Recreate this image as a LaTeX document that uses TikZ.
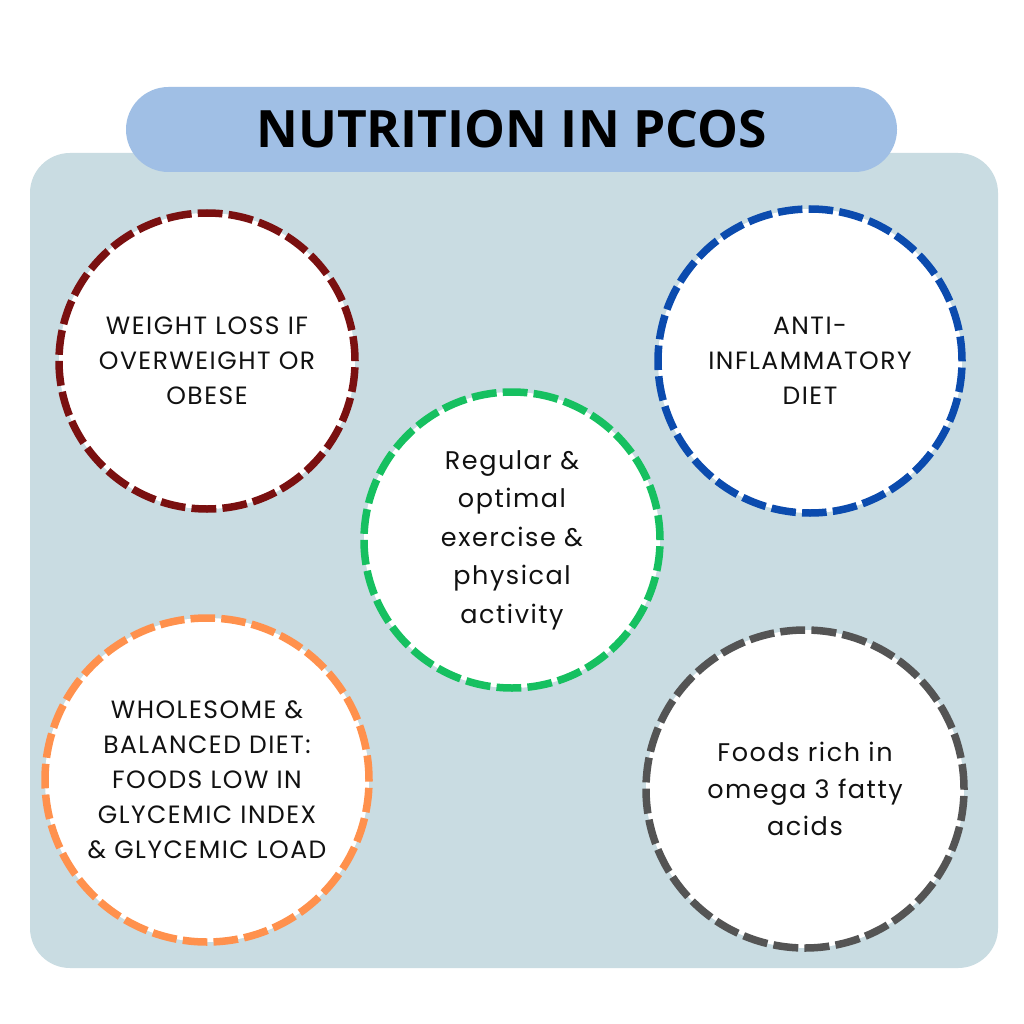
\documentclass[tikz,border=0pt]{standalone}
\usepackage{fontspec}
\setmainfont{Poppins}
\newfontfamily\bubfont{Poppins}[LetterSpace=6]
\newfontfamily\titlefont{Open Sans}
\definecolor{bgc}{HTML}{C9DCE2}
\definecolor{pillc}{HTML}{A0BFE5}
\definecolor{redc}{HTML}{7A1010}
\definecolor{bluec}{HTML}{0B4BAE}
\definecolor{greenc}{HTML}{16C060}
\definecolor{orangec}{HTML}{FF914D}
\definecolor{greyc}{HTML}{545454}
\definecolor{txtc}{HTML}{111111}
\begin{document}
\begin{tikzpicture}[x=1pt,y=-1pt,
  panel/.style={rectangle, fill=bgc, rounded corners=40pt, minimum width=968pt, minimum height=815pt, inner sep=0pt},
  pill/.style={rectangle, fill=pillc, rounded corners=42.5pt, minimum width=771pt, minimum height=85pt, inner sep=0pt, text=black, font=\titlefont\bfseries\fontsize{51.5}{60}\selectfont},
  bubble/.style={circle, fill=white, line width=7.5pt, inner sep=0pt, align=center, text=txtc, font=\bubfont\fontsize{25}{35}\selectfont},
  lbubble/.style={bubble, font=\bubfont\fontsize{25.5}{38.5}\selectfont}]
\useasboundingbox (0,0) rectangle (1024,1024);
\fill[white] (0,0) rectangle (1024,1024);
\node[panel] (panel) at (514,560.5) {};
\node[pill] (title) at (511.5,129.5) {NUTRITION IN PCOS};
\node[bubble, draw=redc, minimum size=296pt, dash pattern=on 24.8pt off 6.2pt] (weight) at (207,361)
  {WEIGHT LOSS IF\\OVERWEIGHT OR\\OBESE};
\node[bubble, draw=bluec, minimum size=304pt, dash pattern=on 24.6pt off 6.2pt] (anti) at (810,361)
  {ANTI-\\INFLAMMATORY\\DIET};
\node[lbubble, draw=greenc, minimum size=296pt, dash pattern=on 24.8pt off 6.2pt] (exercise) at (512,540)
  {Regular \&\\optimal\\exercise \&\\physical\\activity};
\node[bubble, draw=orangec, minimum size=324pt, dash pattern=on 24.6pt off 6.2pt] (whole) at (207,780)
  {WHOLESOME \&\\BALANCED DIET:\\FOODS LOW IN\\GLYCEMIC INDEX\\\& GLYCEMIC LOAD};
\node[lbubble, draw=greyc, minimum size=318pt, dash pattern=on 25pt off 6.2pt, font=\bubfont\fontsize{25.5}{37}\selectfont] (omega) at (805,789)
  {Foods rich in\\omega 3 fatty\\acids};
\end{tikzpicture}
\end{document}
